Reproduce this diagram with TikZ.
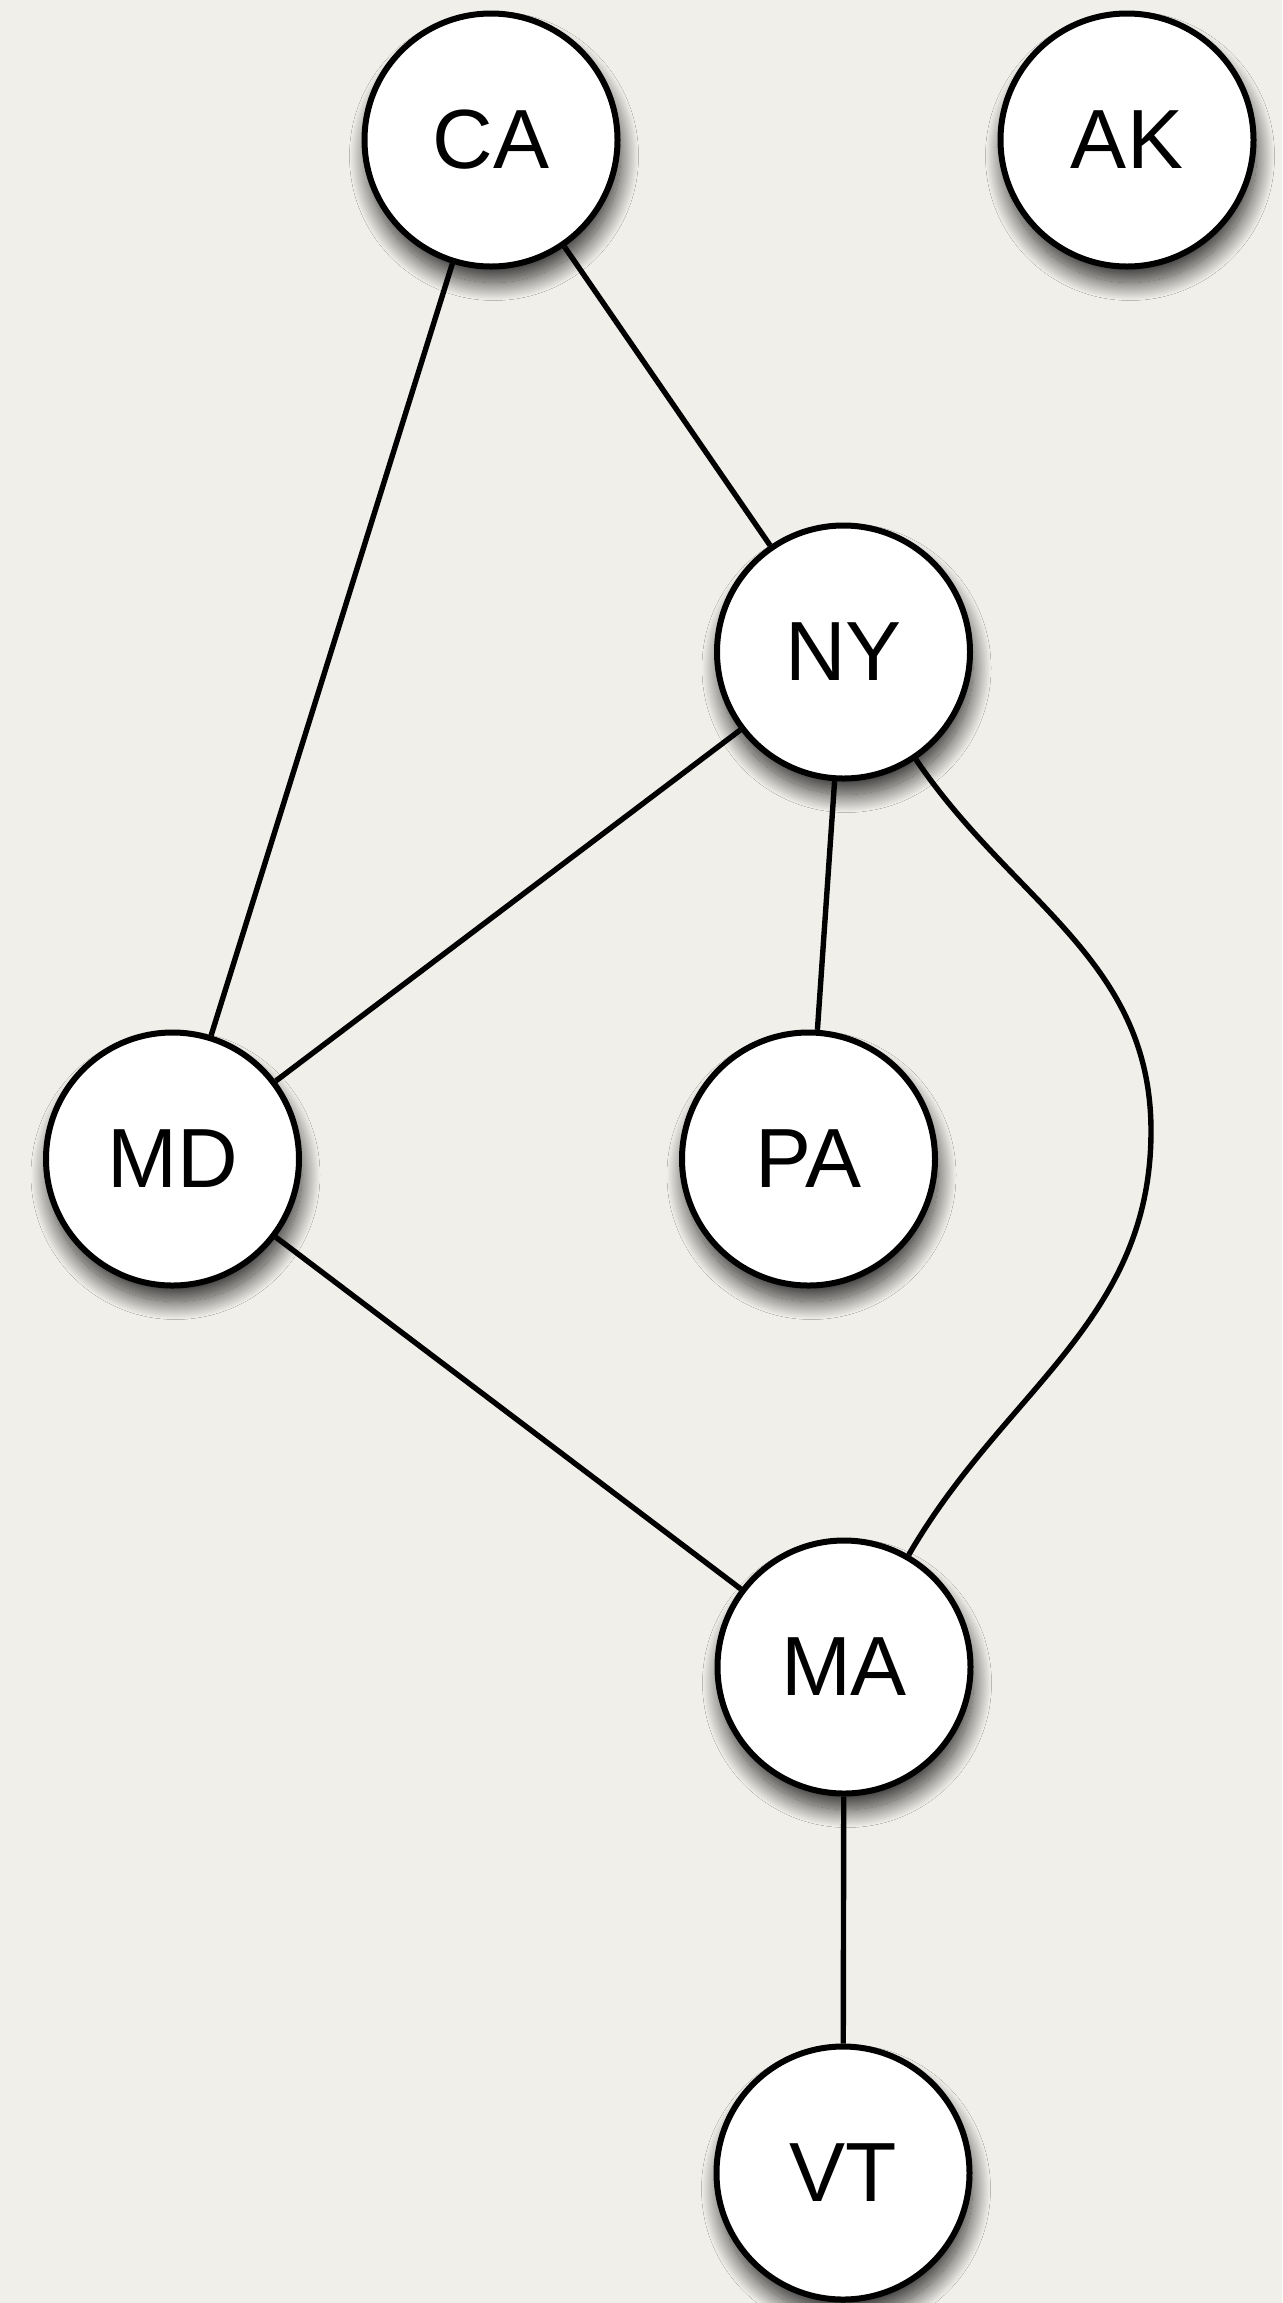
\documentclass[tikz,border=0pt]{standalone}
\usepackage{fontspec}
\setmainfont{Liberation Sans}
\usetikzlibrary{shadows.blur}
\definecolor{paper}{RGB}{241,239,234}
\begin{document}
\begin{tikzpicture}[x=0.5pt,y=-0.5pt,
  state/.style={circle, draw=black, line width=3pt, fill=white,
    minimum size=126.5pt, inner sep=0pt,
    font=\fontsize{42}{50}\selectfont,
    blur shadow={shadow xshift=1.5pt, shadow yshift=-8pt,
      shadow blur radius=9pt, shadow blur steps=30, shadow opacity=80}},
  link/.style={draw=black, line width=2.7pt}]
  % canvas
  \fill[paper] (0,0) rectangle (1282,2303);
  \useasboundingbox (0,0) rectangle (1282,2303);

  % states
  \node[state] (ca) at (491,140) {CA};
  \node[state] (ak) at (1127,140) {AK};
  \node[state] (ny) at (843.5,652) {NY};
  \node[state] (md) at (172.5,1159) {MD};
  \node[state] (pa) at (808.5,1159) {PA};
  \node[state] (ma) at (844,1667) {MA};
  \node[state] (vt) at (843,2173) {VT};

  % outermost point of the NY--MA arc
  \coordinate (bulge) at (1151,1131);

  % borders
  \draw[link] (ca) -- (ny);
  \draw[link] (ca) -- (md);
  \draw[link] (ny) -- (md);
  \draw[link] (ny) -- (pa);
  \draw[link] (ny) to[out=-56, in=90] (bulge) to[out=-90, in=60] (ma);
  \draw[link] (md) -- (ma);
  \draw[link] (ma) -- (vt);
\end{tikzpicture}
\end{document}
